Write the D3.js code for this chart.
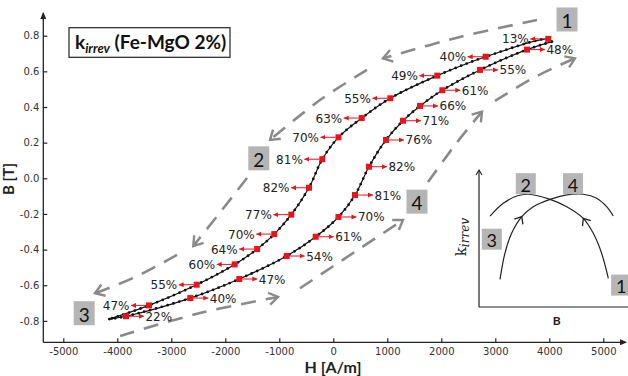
<!DOCTYPE html>
<html>
<head>
<meta charset="utf-8">
<script src="https://cdn.jsdelivr.net/npm/d3@7"></script>
<style>
  body { margin: 0; background: #fff; }
  svg { display: block; }
</style>
</head>
<body>
<div id="chart"></div>
<script>
// descending branch (1 -> 2 -> 3), H in A/m, B in T
const descH = [4050, 3981, 2822, 1926, 1056, 526, 96, -204, -450, -778, -1093, -1410, -1826, -2530, -3413, -4148]
const descB = [0.767, 0.782, 0.682, 0.576, 0.449, 0.338, 0.230, 0.107, -0.053, -0.204, -0.313, -0.397, -0.483, -0.597, -0.713, -0.790]
const descK = [null, '13%', '40%', '49%', '55%', '63%', '70%', '81%', '82%', '77%', '70%', '64%', '60%', '55%', '47%', null]

// ascending branch (3 -> 4 -> 1)
const ascH = [-4148, -3839, -2648, -1741, -863, -326, 96, 402, 661, 976, 1291, 1606, 2019, 2717, 3587, 4050]
const ascB = [-0.790, -0.774, -0.672, -0.565, -0.436, -0.328, -0.217, -0.094, 0.065, 0.215, 0.323, 0.406, 0.494, 0.608, 0.722, 0.767]
const ascK = [null, '22%', '40%', '47%', '54%', '61%', '70%', '81%', '82%', '76%', '71%', '66%', '61%', '55%', '48%', null]

const xTicks = [-5000, -4000, -3000, -2000, -1000, 0, 1000, 2000, 3000, 4000, 5000]
const yTicks = [-0.8, -0.6, -0.4, -0.2, 0, 0.2, 0.4, 0.6, 0.8]

// grey dashed direction arrows, [H, B]
const dashArrows = [
  [[3772, 0.888], [2346, 0.793], [920, 0.673]],
  [[624, 0.608], [-246, 0.439], [-1172, 0.215]],
  [[-1598, 0.002], [-2061, -0.178], [-2593, -0.38]],
  [[-2894, -0.43], [-3670, -0.554], [-4413, -0.645]],
  [[-3948, -0.885], [-2469, -0.756], [-1024, -0.666]],
  [[-617, -0.617], [402, -0.412], [1291, -0.234]],
  [[1754, -0.021], [2254, 0.187], [2754, 0.374]],
  [[2994, 0.434], [3735, 0.568], [4476, 0.673]]
]

// numbered grey boxes on the main plot
const boxLabels = ['1', '2', '3', '4']
const boxH = [4328, -1380, -4613, 1550]
const boxB = [0.891, 0.112, -0.757, -0.131]

// inset sketch (arbitrary 0-100 units)
const insetAX = [86.8, 82.3, 76.7, 70.0, 58.9, 47.7, 33.1, 25.3, 16.3, 7.4]
const insetAY = [20.9, 39.2, 53.8, 64.7, 73.2, 78.6, 82.3, 81.0, 75.7, 66.4]
const insetBX = [14.1, 17.4, 21.9, 28.7, 36.4, 47.7, 58.9, 70.0, 79.0, 85.7, 90.1]
const insetBY = [20.2, 39.2, 53.8, 65.9, 73.2, 78.6, 81.8, 82.3, 79.4, 73.2, 66.4]
const insetBoxLabels = ['2', '4', '3', '1']
const insetBoxX = [31.4, 63.1, 8.6, 95.4]
const insetBoxY = [90.0, 90.0, 49.5, 16.0]

const W = 628
const H = 376
const axisLeftX = 43.3
const axisBottomY = 342.3

const svg = d3.select('#chart').append('svg')
  .attr('width', W)
  .attr('height', H)
  .style('font-family', 'DejaVu Sans, sans-serif')

const defs = svg.append('defs')
defs.append('marker')
  .attr('id', 'redHead')
  .attr('viewBox', '0 -3 6 6')
  .attr('refX', 6).attr('refY', 0)
  .attr('markerWidth', 5).attr('markerHeight', 5)
  .attr('markerUnits', 'userSpaceOnUse')
  .attr('orient', 'auto')
  .append('path').attr('d', 'M0,-3L6,0L0,3Z').attr('fill', '#e8141b')
defs.append('marker')
  .attr('id', 'greyHead')
  .attr('viewBox', '-12 -8 14 16')
  .attr('refX', 0).attr('refY', 0)
  .attr('markerWidth', 14).attr('markerHeight', 16)
  .attr('markerUnits', 'userSpaceOnUse')
  .attr('orient', 'auto')
  .append('path').attr('d', 'M-9,-6L0,0L-9,6')
  .attr('fill', 'none').attr('stroke', '#8a8a8a').attr('stroke-width', 2.4)
defs.append('marker')
  .attr('id', 'axisHead')
  .attr('viewBox', '0 -3 7 6')
  .attr('refX', 6).attr('refY', 0)
  .attr('markerWidth', 7).attr('markerHeight', 6)
  .attr('markerUnits', 'userSpaceOnUse')
  .attr('orient', 'auto')
  .append('path').attr('d', 'M0,-3L7,0L0,3Z').attr('fill', '#222')

const x = d3.scaleLinear().domain([-5000, 5000]).range([63.3, 603.3])
const y = d3.scaleLinear().domain([-0.8, 0.8]).range([320.9, 35.7])

// dashed direction arrows
const smooth = d3.line().x(d => x(d[0])).y(d => y(d[1])).curve(d3.curveCatmullRom)
svg.append('g').selectAll('path')
  .data(dashArrows)
  .join('path')
  .attr('d', smooth)
  .attr('fill', 'none')
  .attr('stroke', '#8a8a8a')
  .attr('stroke-width', 2.6)
  .attr('stroke-dasharray', '15,10')
  .attr('marker-end', 'url(#greyHead)')

// hysteresis branches
const desc = descH.map((h, i) => ({ h, b: descB[i], k: descK[i] }))
const asc = ascH.map((h, i) => ({ h, b: ascB[i], k: ascK[i] }))
const branch = d3.line().x(d => x(d.h)).y(d => y(d.b)).curve(d3.curveCatmullRom.alpha(0.5))

const curves = svg.append('g')
;[desc, asc].forEach(data => {
  curves.append('path')
    .attr('d', branch(data))
    .attr('fill', 'none')
    .attr('stroke', '#111')
    .attr('stroke-width', 1.2)
  curves.append('path')
    .attr('d', branch(data))
    .attr('fill', 'none')
    .attr('stroke', '#111')
    .attr('stroke-width', 2.8)
    .attr('stroke-linecap', 'round')
    .attr('stroke-dasharray', '0,6')
})

// red markers with arrows and labels
function drawMarkers (data, side) {
  const g = svg.append('g')
  const pts = data.filter(d => d.k)
  g.selectAll('line')
    .data(pts)
    .join('line')
    .attr('x1', d => x(d.h) + side * 3)
    .attr('x2', d => x(d.h) + side * 18)
    .attr('y1', d => y(d.b))
    .attr('y2', d => y(d.b))
    .attr('stroke', '#e8141b')
    .attr('stroke-width', 1)
    .attr('marker-end', 'url(#redHead)')
  g.selectAll('rect')
    .data(pts)
    .join('rect')
    .attr('x', d => x(d.h) - 3)
    .attr('y', d => y(d.b) - 3)
    .attr('width', 6)
    .attr('height', 6)
    .attr('fill', '#e8141b')
  g.selectAll('text')
    .data(pts)
    .join('text')
    .attr('x', d => x(d.h) + side * 19.5)
    .attr('y', d => y(d.b) + 0.5)
    .attr('text-anchor', side < 0 ? 'end' : 'start')
    .attr('dominant-baseline', 'central')
    .attr('font-size', 12)
    .attr('fill', '#222')
    .text(d => d.k)
}
drawMarkers(desc, -1)
drawMarkers(asc, 1)

// numbered boxes
const boxes = svg.append('g')
boxLabels.forEach((t, i) => {
  boxes.append('rect')
    .attr('x', x(boxH[i]) - 10.5)
    .attr('y', y(boxB[i]) - 12)
    .attr('width', 21)
    .attr('height', 24)
    .attr('fill', '#b5b5b5')
  boxes.append('text')
    .attr('x', x(boxH[i]))
    .attr('y', y(boxB[i]) + 1)
    .attr('text-anchor', 'middle')
    .attr('dominant-baseline', 'central')
    .attr('font-family', 'Lato, sans-serif')
    .attr('font-size', 19)
    .attr('fill', '#111')
    .text(t)
})

// axes
const xAxis = svg.append('g')
  .attr('transform', `translate(0,${axisBottomY})`)
  .call(d3.axisBottom(x).tickValues(xTicks).tickSizeInner(-4).tickSizeOuter(0).tickPadding(6).tickFormat(d => String(d)))
xAxis.select('.domain').remove()
const yAxis = svg.append('g')
  .attr('transform', `translate(${axisLeftX},0)`)
  .call(d3.axisLeft(y).tickValues(yTicks).tickSizeInner(-4).tickSizeOuter(0).tickPadding(4).tickFormat(d => d.toFixed(1)))
yAxis.select('.domain').remove()
;[xAxis, yAxis].forEach(a => {
  a.selectAll('text').attr('font-family', 'DejaVu Sans, sans-serif').attr('font-size', 10).attr('fill', '#333')
  a.selectAll('line').attr('stroke', '#222').attr('stroke-width', 1.2)
})
svg.append('line')
  .attr('x1', axisLeftX).attr('x2', 626)
  .attr('y1', axisBottomY).attr('y2', axisBottomY)
  .attr('stroke', '#222').attr('stroke-width', 1.3)
  .attr('marker-end', 'url(#axisHead)')
svg.append('line')
  .attr('x1', axisLeftX).attr('x2', axisLeftX)
  .attr('y1', axisBottomY).attr('y2', 13)
  .attr('stroke', '#222').attr('stroke-width', 1.3)
  .attr('marker-end', 'url(#axisHead)')

svg.append('text')
  .attr('x', 333).attr('y', 372.5)
  .attr('text-anchor', 'middle')
  .attr('font-family', 'Lato, sans-serif')
  .attr('font-weight', 'bold')
  .attr('font-size', 16)
  .attr('fill', '#222')
  .text('H [A/m]')
svg.append('text')
  .attr('transform', 'translate(14,179) rotate(-90)')
  .attr('text-anchor', 'middle')
  .attr('font-family', 'Lato, sans-serif')
  .attr('font-weight', 'bold')
  .attr('font-size', 15)
  .attr('fill', '#222')
  .text('B [T]')

// title box
svg.append('rect')
  .attr('x', 69).attr('y', 27.7)
  .attr('width', 161).attr('height', 29.6)
  .attr('fill', '#fff')
  .attr('stroke', '#222')
  .attr('stroke-width', 1.2)
const title = svg.append('text')
  .attr('x', 75).attr('y', 49)
  .attr('font-family', 'Lato, sans-serif')
  .attr('font-weight', 'bold')
  .attr('font-size', 19)
  .attr('fill', '#111')
title.append('tspan').text('k')
title.append('tspan').attr('font-size', 13).attr('font-style', 'italic').attr('dy', 3.5).text('irrev')
title.append('tspan').attr('dy', -3.5).text(' (Fe-MgO 2%)')

// inset sketch
const ix = d3.scaleLinear().domain([0, 100]).range([479, 628])
const iy = d3.scaleLinear().domain([0, 100]).range([307, 170])
const inset = svg.append('g')
inset.append('line')
  .attr('x1', ix(0)).attr('x2', ix(100))
  .attr('y1', iy(0)).attr('y2', iy(0))
  .attr('stroke', '#222').attr('stroke-width', 1.2)
inset.append('line')
  .attr('x1', ix(0)).attr('x2', ix(0))
  .attr('y1', iy(0)).attr('y2', iy(100))
  .attr('stroke', '#222').attr('stroke-width', 1.2)
inset.append('path')
  .attr('d', `M${ix(0) - 3},${iy(100) + 5}L${ix(0)},${iy(100)}L${ix(0) + 3},${iy(100) + 5}`)
  .attr('fill', 'none').attr('stroke', '#222').attr('stroke-width', 1.1)

const sketch = d3.line().x(d => ix(d[0])).y(d => iy(d[1])).curve(d3.curveCatmullRom)
const insetA = insetAX.map((v, i) => [v, insetAY[i]])
const insetB = insetBX.map((v, i) => [v, insetBY[i]])
;[insetA, insetB].forEach(pts => {
  inset.append('path')
    .attr('d', sketch(pts))
    .attr('fill', 'none')
    .attr('stroke', '#222')
    .attr('stroke-width', 1.2)
  // open arrowhead on the rising part
  const p0 = pts[2]
  const p1 = pts[3]
  const ang = Math.atan2(iy(p1[1]) - iy(p0[1]), ix(p1[0]) - ix(p0[0])) * 180 / Math.PI
  inset.append('path')
    .attr('d', 'M-6,-5L0,0L-6,5')
    .attr('transform', `translate(${ix(p1[0])},${iy(p1[1])}) rotate(${ang})`)
    .attr('fill', 'none')
    .attr('stroke', '#222')
    .attr('stroke-width', 1.3)
})

insetBoxLabels.forEach((t, i) => {
  inset.append('rect')
    .attr('x', ix(insetBoxX[i]) - 10)
    .attr('y', iy(insetBoxY[i]) - 10.5)
    .attr('width', 20)
    .attr('height', 21)
    .attr('fill', '#b5b5b5')
  inset.append('text')
    .attr('x', ix(insetBoxX[i]))
    .attr('y', iy(insetBoxY[i]) + 1)
    .attr('text-anchor', 'middle')
    .attr('dominant-baseline', 'central')
    .attr('font-family', 'Lato, sans-serif')
    .attr('font-size', 18)
    .attr('fill', '#111')
    .text(t)
})

const kLabel = inset.append('text')
  .attr('transform', `translate(${ix(-9)},${iy(51)}) rotate(-90)`)
  .attr('text-anchor', 'middle')
  .attr('font-family', 'DejaVu Serif, serif')
  .attr('font-size', 15)
  .attr('fill', '#222')
kLabel.append('tspan').text('k')
kLabel.append('tspan').attr('font-size', 12).attr('font-style', 'italic').attr('dy', 3).text('irrev')

inset.append('text')
  .attr('x', 556.7).attr('y', 320)
  .attr('text-anchor', 'middle')
  .attr('dominant-baseline', 'central')
  .attr('font-family', 'Lato, sans-serif')
  .attr('font-weight', 'bold')
  .attr('font-size', 12)
  .attr('fill', '#222')
  .text('B')
</script>
</body>
</html>
